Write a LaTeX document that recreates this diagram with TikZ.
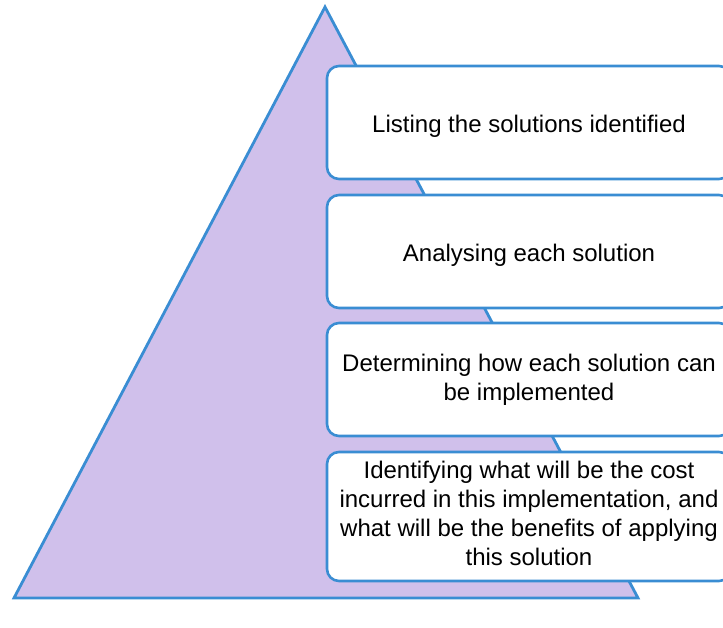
\documentclass[tikz,border=0pt]{standalone}
\usepackage{fontspec}
\setmainfont{Liberation Sans}
\definecolor{pyrfill}{HTML}{D0C0EB}
\definecolor{pyrline}{HTML}{3A8DD3}
\begin{document}
\begin{tikzpicture}[x=1pt, y=-1pt,
  font=\fontsize{24}{29}\selectfont,
  step box/.style={draw=pyrline, line width=2.6pt, rounded corners=12pt, fill=white,
                   minimum width=404pt, minimum height=#1, align=center, inner sep=0pt},
  one line/.style={text height=25pt},
  pyramid/.style={draw=pyrline, line width=2.8pt, fill=pyrfill, line join=miter}
]
  \useasboundingbox (0,0) rectangle (723,627);
  % Pyramide
  \coordinate (apex)  at (325,7);
  \coordinate (right) at (638,598);
  \coordinate (left)  at (14,598);
  \draw[pyramid] (apex) -- (right) -- (left) -- cycle;
  % Etapes
  \node[step box=113pt, one line] (list) at (529,122.5) {Listing the solutions identified};
  \node[step box=113pt, one line] (anal) at (529,251.5) {Analysing each solution};
  \node[step box=113pt] (impl) at (529,379.5) {Determining how each solution can\\be implemented};
  \node[step box=129pt] (cost) at (529,516.5)
        {Identifying what will be the cost\\incurred in this implementation, and\\what will be the benefits of applying\\this solution\rule[-6pt]{0pt}{6pt}};
\end{tikzpicture}
\end{document}
